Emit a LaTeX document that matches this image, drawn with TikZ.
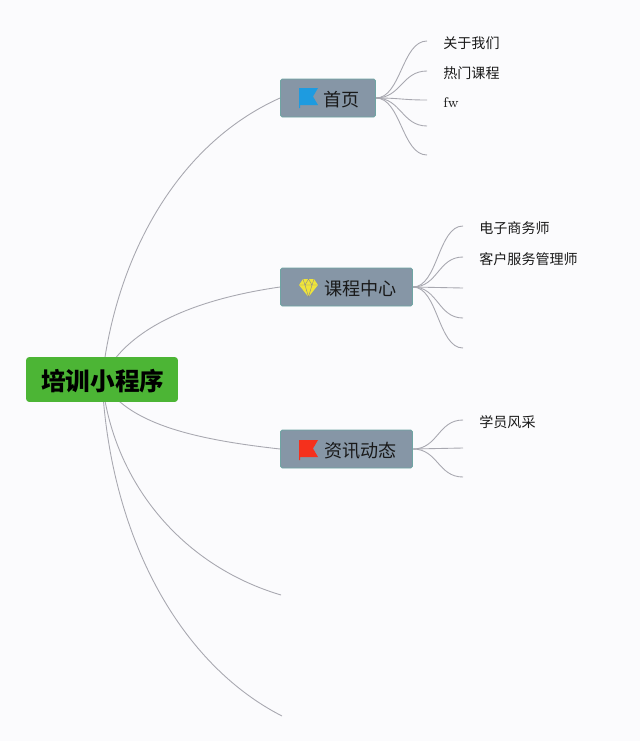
\documentclass[tikz,border=0pt]{standalone}
\usepackage{fontspec}
\newfontfamily\cjk{Noto Sans CJK SC}
\usetikzlibrary{backgrounds}
\definecolor{pagebg}{HTML}{FBFBFD}
\definecolor{rootgreen}{HTML}{4CB535}
\definecolor{branchfill}{HTML}{8696A6}
\definecolor{branchedge}{HTML}{6FA5A3}
\definecolor{linkgray}{HTML}{A8A8B0}
\definecolor{flagblue}{HTML}{1E9BE0}
\definecolor{flagred}{HTML}{F5301C}
\definecolor{gemyellow}{HTML}{EFE43A}
\tikzset{
    rootbox/.style={draw=rootgreen, fill=rootgreen, rounded corners=1.5pt, minimum width=3.02cm, minimum height=0.88cm, inner sep=0pt, text height=14.2pt, text depth=1.7pt, font=\cjk\bfseries\fontsize{14}{16}\selectfont, text=black, execute at begin node={\hspace*{1pt}}},
    branchbox/.style={draw=branchedge, fill=branchfill, rounded corners=1pt, line width=0.5pt, minimum height=0.76cm, inner sep=0pt, text height=10.4pt, text depth=1pt, font=\cjk\fontsize{10.3}{12}\selectfont, text=black!90, execute at begin node={\hspace*{0.55cm}}},
    leaf/.style={anchor=west, inner xsep=0.32cm, inner ysep=0pt, text height=9pt, text depth=0.8pt, font=\fontsize{8}{10}\selectfont, text=black!90},
    link/.style={draw=linkgray, line width=0.5pt}
}

\begin{document}
\begin{tikzpicture}[x=0.02cm, y=-0.02cm]
    \useasboundingbox (0,0) rectangle (640,741);
    % main boxes
    \node[rootbox] (root) at (102,379.5) {培训小程序};
    \node[branchbox, minimum width=1.9cm] (home) at (328,98) {首页};
    \node[branchbox, minimum width=2.64cm] (course) at (346.5,287) {课程中心};
    \node[branchbox, minimum width=2.64cm] (news) at (346.5,449) {资讯动态};
    % free ends of the root
    \coordinate (rootd) at (281,595);
    \coordinate (roote) at (282,716);
    % leaves
    \foreach \leafname/\leafx/\leafy/\leaftext in {
        homea/427/41/{\cjk 关于我们}, homeb/427/71/{\cjk 热门课程}, homec/427/100/{fw},
        coursea/463/226/{\cjk 电子商务师}, courseb/463/257/{\cjk 客户服务管理师},
        newsa/463/420/{\cjk 学员风采}}
        \node[leaf] (\leafname) at (\leafx,\leafy) {\leaftext};
    \coordinate (homed) at (427,126);
    \coordinate (homee) at (427,155);
    \coordinate (coursec) at (463,288);
    \coordinate (coursed) at (463,318);
    \coordinate (coursee) at (463,348);
    \coordinate (newsb) at (463,448);
    \coordinate (newsc) at (463,477);
    % links, under the boxes
    \begin{scope}[on background layer]
        \fill[pagebg] (0,0) rectangle (640,741);
        \draw[link] (root.center) .. controls (115,260) and (175,145) .. (home.west);
        \draw[link] (root.center) .. controls (125,330) and (190,300) .. (course.west);
        \draw[link] (root.center) .. controls (125,425) and (200,440) .. (news.west);
        \draw[link] (root.center) .. controls (112,480) and (180,565) .. (rootd);
        \draw[link] (root.center) .. controls (110,540) and (182,665) .. (roote);
        \foreach \leafend in {homea.west,homeb.west,homec.west,homed,homee}
            \draw[link] (home.east) .. controls +(25,0) and +(-25,0) .. (\leafend);
        \foreach \leafend in {coursea.west,courseb.west,coursec,coursed,coursee}
            \draw[link] (course.east) .. controls +(25,0) and +(-25,0) .. (\leafend);
        \foreach \leafend in {newsa.west,newsb,newsc}
            \draw[link] (news.east) .. controls +(25,0) and +(-25,0) .. (\leafend);
    \end{scope}
    % flags
    \foreach \flagy/\flagcolor in {88/flagblue,440/flagred} {
        \fill[\flagcolor] (299,\flagy) -- (318,\flagy) -- (313,\flagy+8.5) -- (318,\flagy+17) -- (300,\flagy+17) -- (300,\flagy+20) -- (299,\flagy+20) -- cycle;
    }
    % gem
    \fill[gemyellow] (303,279) -- (314,279) -- (318,285) -- (308.5,297) -- (299,285) -- cycle;
    \draw[black!45, line width=0.25pt] (299,285) -- (318,285) (303,279) -- (305,285) -- (308.5,297) -- (312,285) -- (314,279) (305,285) -- (308.5,279) -- (312,285);
\end{tikzpicture}
\end{document}
